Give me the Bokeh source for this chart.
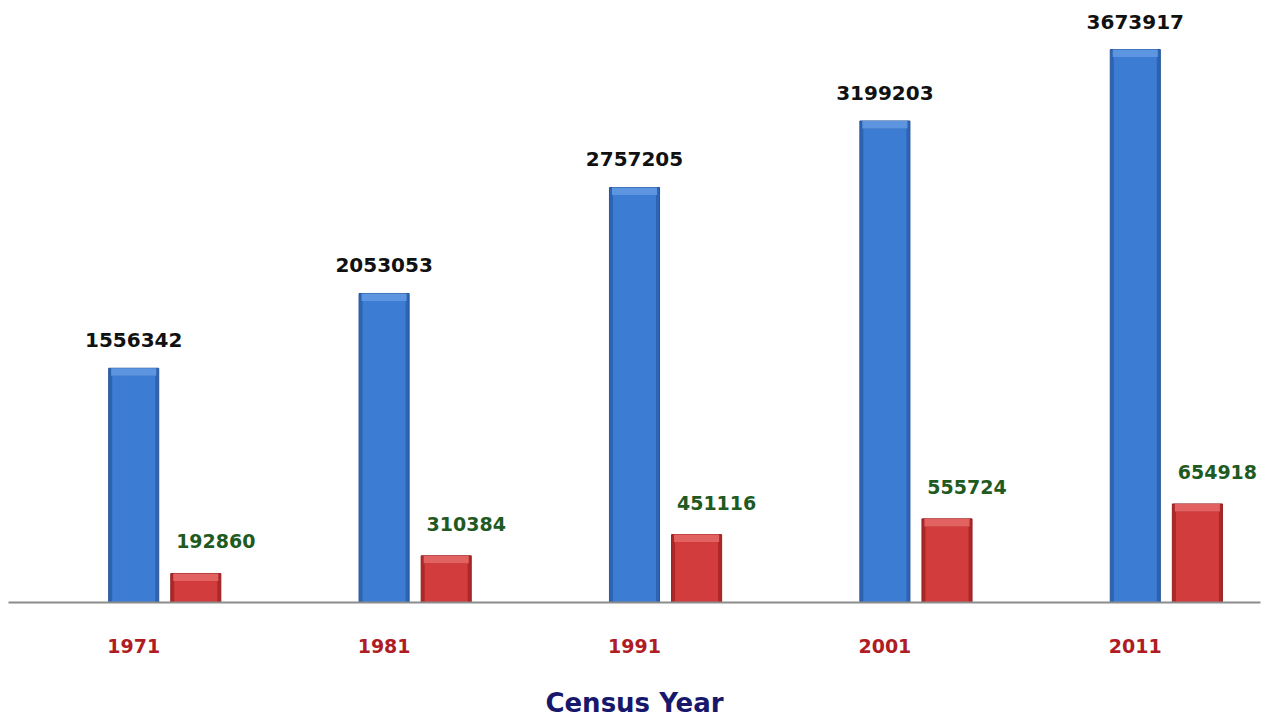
from bokeh.plotting import figure
from bokeh.models import Range1d, FixedTicker, ColumnDataSource
from bokeh.core.properties import value
from bokeh.embed import file_html
from bokeh.resources import INLINE

years = ["1971", "1981", "1991", "2001", "2011"]
total_pop = [1556342, 2053053, 2757205, 3199203, 3673917]
second_pop = [192860, 310384, 451116, 555724, 654918]

idx = list(range(len(years)))
offset = 0.248
bar_w = 0.2
bevel = 50000

src = ColumnDataSource(dict(
    x=idx,
    x2=[i + offset for i in idx],
    top=total_pop,
    top2=second_pop,
    bev=[t - bevel for t in total_pop],
    bev2=[t - bevel for t in second_pop],
    lab=[str(v) for v in total_pop],
    lab2=[str(v) for v in second_pop],
))

p = figure(frame_width=1252, frame_height=594,
           x_range=Range1d(-0.5, 4.5), y_range=Range1d(0, 3946330),
           output_backend="svg", toolbar_location=None,
           y_axis_location=None,
           min_border_left=8, min_border_top=8,
           min_border_right=20, min_border_bottom=117)
p.outline_line_color = None
p.xgrid.visible = False
p.ygrid.visible = False
p.background_fill_color = "white"

# blue bars
p.vbar(x="x", top="top", bottom=0, width=bar_w, source=src,
       fill_color="#2c63b2", line_color="#27569a", line_width=1)
p.vbar(x="x", top="bev", bottom=0, width=bar_w * 0.86, source=src,
       fill_color="#3c7cd2", line_color=None)
p.vbar(x="x", top="top", bottom="bev", width=bar_w * 0.9, source=src,
       fill_color="#5d95e0", line_color=None)

# red bars
p.vbar(x="x2", top="top2", bottom=0, width=bar_w, source=src,
       fill_color="#ac2828", line_color="#952020", line_width=1)
p.vbar(x="x2", top="bev2", bottom=0, width=bar_w * 0.86, source=src,
       fill_color="#d33c3c", line_color=None)
p.vbar(x="x2", top="top2", bottom="bev2", width=bar_w * 0.9, source=src,
       fill_color="#e26262", line_color=None)

p.text(x="x", y="top", text="lab", source=src,
       text_font=value("DejaVu Sans"), text_font_style="bold",
       text_font_size="20px", text_color="#111111",
       text_align="center", text_baseline="alphabetic", y_offset=-28)
p.text(x="x2", y="top2", text="lab2", source=src,
       text_font=value("DejaVu Sans"), text_font_style="bold",
       text_font_size="19px", text_color="#1f5a1f",
       text_align="center", text_baseline="alphabetic",
       x_offset=20, y_offset=-32)

ax = p.xaxis[0]
ax.ticker = FixedTicker(ticks=idx)
ax.major_label_overrides = {i: y for i, y in zip(idx, years)}
ax.major_label_text_font = "DejaVu Sans"
ax.major_label_text_font_style = "bold"
ax.major_label_text_font_size = "19px"
ax.major_label_text_color = "#b01c24"
ax.major_label_standoff = 36
ax.major_tick_line_color = None
ax.minor_tick_line_color = None
ax.major_tick_out = 0
ax.major_tick_in = 0
ax.axis_line_color = "#8c8c8c"
ax.axis_line_width = 2
ax.axis_label = "Census Year"
ax.axis_label_text_font = "DejaVu Sans"
ax.axis_label_text_font_style = "bold"
ax.axis_label_text_font_size = "26px"
ax.axis_label_text_color = "#17186b"
ax.axis_label_standoff = 32

open("out.html", "w").write(file_html(p, INLINE))
